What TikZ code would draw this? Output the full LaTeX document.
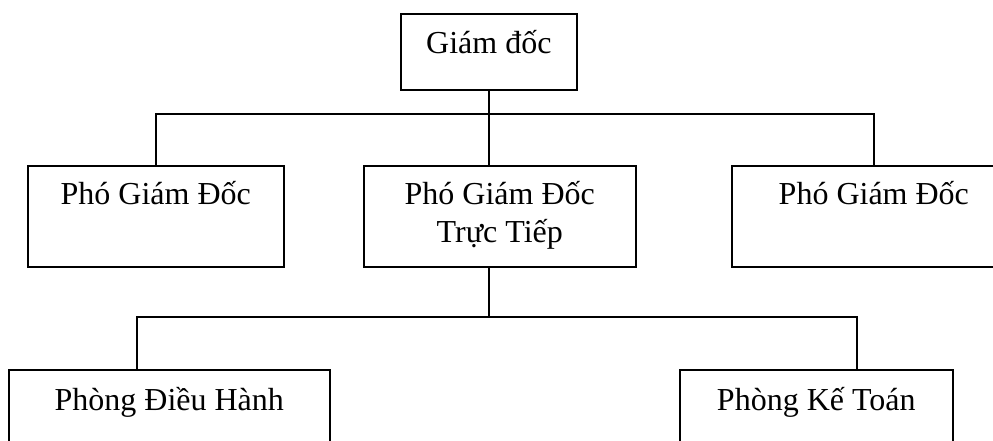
\documentclass[tikz,border=0pt]{standalone}
\usepackage{fontspec}
\setmainfont{Liberation Serif}
\usetikzlibrary{positioning}

\begin{document}
\begin{tikzpicture}[
    x=1pt, y=-1pt,
    box/.style={rectangle, draw, line width=1.6pt, anchor=north west, inner sep=0pt, align=center, font=\fontsize{32}{38}\selectfont, text height=39pt},
    conn/.style={line width=1.6pt}
]
\useasboundingbox (0,0) rectangle (993,441);
\clip (0,0) rectangle (993,441);

% Top level
\node[box, minimum width=176pt, text height=40pt, text depth=36pt] (gd) at (400,13) {Giám đốc};

% Deputies
\node[box, minimum width=256pt, text depth=62pt] (pgd1) at (27,165) {Phó Giám Đốc};
\node[box, minimum width=272pt, text height=77pt, text depth=24pt] (pgdtt) at (363,165) {Phó Giám Đốc\\Trực Tiếp};
\node[box, minimum width=284pt, text depth=62pt] (pgd3) at (731,165) {Phó Giám Đốc};

% Departments
\node[box, minimum width=321pt, text height=41pt, text depth=80pt] (phdh) at (8,369) {Phòng Điều Hành};
\node[box, minimum width=273pt, text height=41pt, text depth=80pt] (pkt) at (679,369) {Phòng Kế Toán};

\coordinate (bus2) at (489,317);
\coordinate (dhin) at (137,369);
\coordinate (ktin) at (857,369);

\draw[conn] (gd.south) -- (pgdtt.north -| gd.south);
\draw[conn] (pgd1.north) -- ++(0,-51) -| (pgd3.north);
\draw[conn] (bus2 |- pgdtt.south) -- (bus2);
\draw[conn] (dhin) -- ++(0,-52) -| (ktin);
\end{tikzpicture}
\end{document}
